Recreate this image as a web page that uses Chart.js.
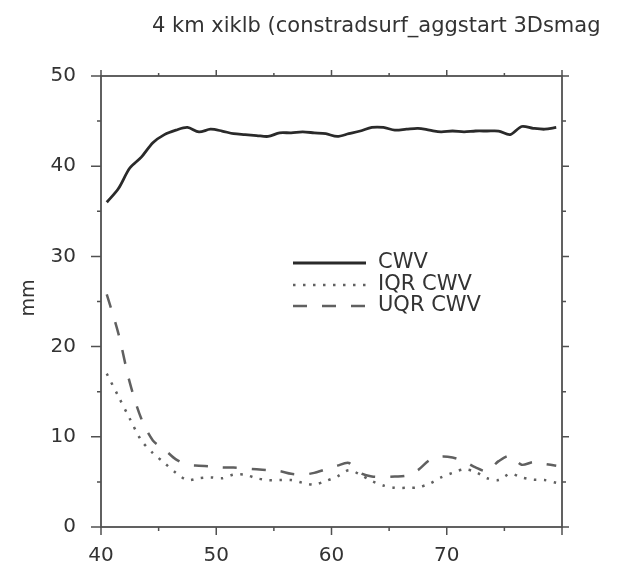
<!DOCTYPE html>
<html>
<head>
<meta charset="utf-8">
<script src="https://cdn.jsdelivr.net/npm/chart.js@4"></script>
<style>
  html, body { margin: 0; padding: 0; background: #fff; }
  #wrap { width: 617px; height: 572px; position: relative; }
</style>
</head>
<body>
<div id="wrap"><canvas id="cwv"></canvas></div>
<script>
// time axis (hours) and column water vapour statistics, mm
const hours = [40.5, 41.5, 42.5, 43.5, 44.5, 45.5, 46.5, 47.5, 48.5, 49.5,
  50.5, 51.5, 52.5, 53.5, 54.5, 55.5, 56.5, 57.5, 58.5, 59.5,
  60.5, 61.5, 62.5, 63.5, 64.5, 65.5, 66.5, 67.5, 68.5, 69.5,
  70.5, 71.5, 72.5, 73.5, 74.5, 75.5, 76.5, 77.5, 78.5, 79.5];

const cwv = [36.0, 37.5, 39.8, 41.0, 42.6, 43.5, 44.0, 44.3, 43.8, 44.1,
  43.9, 43.6, 43.5, 43.4, 43.3, 43.7, 43.7, 43.8, 43.7, 43.6,
  43.3, 43.6, 43.9, 44.3, 44.3, 44.0, 44.1, 44.2, 44.0, 43.8,
  43.9, 43.8, 43.9, 43.9, 43.9, 43.5, 44.4, 44.2, 44.1, 44.3];

const iqrCwv = [17.0, 14.5, 12.0, 9.6, 8.2, 7.1, 6.0, 5.2, 5.4, 5.5,
  5.4, 5.8, 5.8, 5.4, 5.2, 5.2, 5.2, 4.9, 4.7, 5.1,
  5.6, 6.3, 5.8, 5.1, 4.6, 4.35, 4.35, 4.4, 4.8, 5.5,
  6.0, 6.4, 6.1, 5.4, 5.2, 5.9, 5.5, 5.25, 5.2, 4.9];

const uqrCwv = [25.8, 21.5, 16.0, 12.0, 9.6, 8.6, 7.5, 6.9, 6.8, 6.7,
  6.6, 6.6, 6.5, 6.4, 6.3, 6.2, 5.9, 5.8, 6.0, 6.4,
  6.8, 7.1, 6.0, 5.6, 5.55, 5.6, 5.7, 6.3, 7.4, 7.8,
  7.7, 7.3, 6.6, 6.2, 7.3, 7.9, 6.9, 7.2, 7.0, 6.8];

const seriesNames = ['CWV', 'IQR CWV', 'UQR CWV'];
const xTicks = [40, 50, 60, 70];
const yTicks = [0, 10, 20, 30, 40, 50];
const titleText = '4 km xiklb (constradsurf_aggstart 3Dsmag';
const yTitle = 'mm';

const FONT = '"DejaVu Sans", Arial, sans-serif';
const AXIS = '#505050';
const TEXT = '#333';

const pts = arr => arr.map((v, i) => ({ x: hours[i], y: v }));

// frame, outward ticks, title, y label and the in-plot legend
const framePlugin = {
  id: 'frame',
  afterDraw(chart) {
    const { ctx, chartArea: a, scales } = chart;
    const xs = scales.x, ys = scales.y;
    ctx.save();
    ctx.strokeStyle = AXIS;
    ctx.lineWidth = 1.8;
    ctx.strokeRect(a.left, a.top, a.right - a.left, a.bottom - a.top);

    ctx.lineWidth = 1.5;
    for (let v = 40; v <= 80; v += 5) {
      const px = xs.getPixelForValue(v);
      const major = v % 10 === 0;
      ctx.beginPath();
      ctx.moveTo(px, a.bottom); ctx.lineTo(px, a.bottom + (major ? 8 : 4));
      ctx.moveTo(px, a.top); ctx.lineTo(px, a.top - (major ? 6 : 3));
      ctx.stroke();
    }
    for (let v = 0; v <= 50; v += 5) {
      const py = ys.getPixelForValue(v);
      const major = v % 10 === 0;
      ctx.beginPath();
      ctx.moveTo(a.left, py); ctx.lineTo(a.left - (major ? 10 : 4), py);
      ctx.moveTo(a.right, py); ctx.lineTo(a.right + (major ? 7 : 4), py);
      ctx.stroke();
    }

    // title runs off the right edge of the figure
    ctx.save();
    ctx.beginPath();
    ctx.rect(0, 0, 601, 60);
    ctx.clip();
    ctx.fillStyle = TEXT;
    ctx.font = '21px ' + FONT;
    ctx.textAlign = 'left';
    ctx.textBaseline = 'middle';
    ctx.fillText(titleText, 152, 27);
    ctx.restore();

    ctx.save();
    ctx.translate(29, 298);
    ctx.rotate(-Math.PI / 2);
    ctx.fillStyle = TEXT;
    ctx.textAlign = 'center';
    ctx.textBaseline = 'middle';
    ctx.font = '19px ' + FONT;
    ctx.fillText(yTitle, 0, 0);
    ctx.restore();

    // legend
    const rows = [263, 285, 306];
    chart.data.datasets.forEach((ds, i) => {
      const y = rows[i];
      ctx.save();
      ctx.strokeStyle = ds.borderColor;
      ctx.lineWidth = ds.borderWidth;
      ctx.setLineDash(ds.borderDash || []);
      ctx.beginPath();
      ctx.moveTo(293, y); ctx.lineTo(366, y);
      ctx.stroke();
      ctx.restore();
      ctx.fillStyle = TEXT;
      ctx.font = '21px ' + FONT;
      ctx.textAlign = 'left';
      ctx.textBaseline = 'middle';
      ctx.fillText(ds.label, 378, y);
    });
    ctx.restore();
  }
};

new Chart(document.getElementById('cwv'), {
  type: 'line',
  data: {
    datasets: [
      { label: seriesNames[0], data: pts(cwv), borderColor: '#2a2a2a', borderWidth: 2.8,
        pointRadius: 0, tension: 0.3, fill: false },
      { label: seriesNames[1], data: pts(iqrCwv), borderColor: '#606060', borderWidth: 2.5,
        borderDash: [2.5, 7.5], pointRadius: 0, tension: 0.3, fill: false },
      { label: seriesNames[2], data: pts(uqrCwv), borderColor: '#606060', borderWidth: 2.5,
        borderDash: [14, 15], pointRadius: 0, tension: 0.3, fill: false }
    ]
  },
  options: {
    responsive: true,
    maintainAspectRatio: false,
    animation: false,
    layout: { padding: { left: 0, top: 76, right: 55, bottom: 0 } },
    plugins: { legend: { display: false }, tooltip: { enabled: false } },
    scales: {
      x: {
        type: 'linear', min: 40, max: 80,
        afterFit: s => { s.height = 45; },
        afterBuildTicks: s => { s.ticks = xTicks.map(v => ({ value: v })); },
        grid: { display: false },
        border: { display: false },
        ticks: { padding: 9, color: TEXT, font: { family: FONT, size: 20 } }
      },
      y: {
        type: 'linear', min: 0, max: 50,
        afterFit: s => { s.width = 101; },
        afterBuildTicks: s => { s.ticks = yTicks.map(v => ({ value: v })); },
        grid: { display: false },
        border: { display: false },
        ticks: { padding: 17, color: TEXT, font: { family: FONT, size: 20 } }
      }
    }
  },
  plugins: [framePlugin]
});
</script>
</body>
</html>
